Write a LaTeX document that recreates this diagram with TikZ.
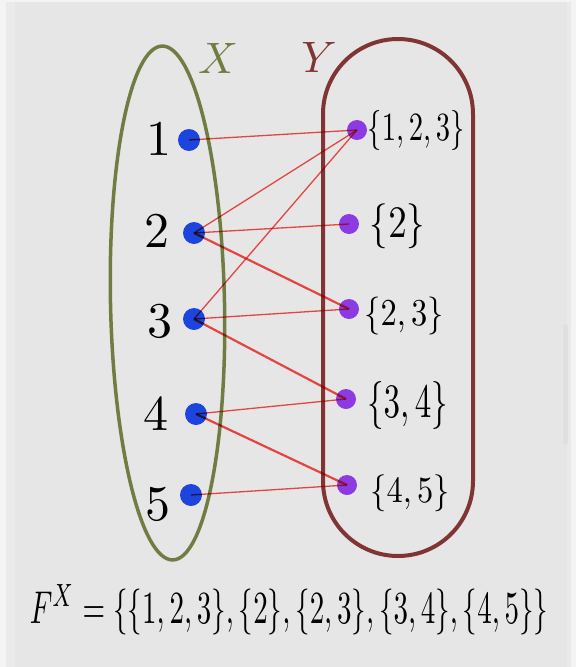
\documentclass[tikz,border=0pt]{standalone}
\usepackage{graphicx}
\definecolor{bgout}{HTML}{F4F4F4}
\definecolor{bgmid}{HTML}{EAEAEA}
\definecolor{bgin}{HTML}{E6E6E6}
\definecolor{scrollc}{HTML}{DFDFDF}
\definecolor{xgreen}{RGB}{112,125,66}
\definecolor{yred}{RGB}{128,52,52}
\definecolor{dotblue}{RGB}{30,68,222}
\definecolor{dotpurple}{RGB}{140,58,226}
\definecolor{edgered}{RGB}{252,78,74}
\begin{document}
\begin{tikzpicture}[x=1pt,y=-1pt,
  dotx/.style={circle,fill=dotblue,inner sep=0pt,minimum size=22pt},
  doty/.style={circle,fill=dotpurple,inner sep=0pt,minimum size=20pt},
  edgethin/.style={draw=edgered,line width=1.3pt},
  edgethick/.style={draw=edgered,line width=2.2pt},
  lab/.style={inner sep=0pt,outer sep=0pt,anchor=base},
]
\useasboundingbox (0,0) rectangle (576,667);
% background
\fill[bgout] (0,0) rectangle (576,667);
\fill[bgmid] (6,2) rectangle (571,667);
\fill[bgin] (15,2) rectangle (567,667);
\fill[scrollc, rounded corners=2.5pt] (563,324) rectangle (568,445);

% the two sets
\draw[xgreen,line width=3.5pt,rotate around={1.2:(167.5,303)}] (167.5,303) ellipse [x radius=57pt,y radius=257pt];
\draw[yred,line width=4pt,rounded corners=75pt] (323,39) rectangle (473,556);

\node[lab,text=xgreen] (xname) at (218,73) {\scalebox{4.4}{$X$}};
\node[lab,text=yred] (yname) at (319,72) {\scalebox{4.4}{$Y$}};

% points of X
\node[dotx] (a1) at (189,140) {};
\node[dotx] (a2) at (194,233) {};
\node[dotx] (a3) at (194,319) {};
\node[dotx] (a4) at (196,414) {};
\node[dotx] (a5) at (191,495) {};

% points of Y
\node[doty] (b1) at (357,130) {};
\node[doty] (b2) at (349,224) {};
\node[doty] (b3) at (349,309) {};
\node[doty] (b4) at (346,399) {};
\node[doty] (b5) at (347,485) {};

% labels of X
\node[lab] (l1) at (159,155) {\scalebox{5}{$1$}};
\node[lab] (l2) at (157,247) {\scalebox{5}{$2$}};
\node[lab] (l3) at (160,337) {\scalebox{5}{$3$}};
\node[lab] (l4) at (156,430) {\scalebox{5}{$4$}};
\node[lab] (l5) at (158,520) {\scalebox{5}{$5$}};

% labels of Y
\node[lab] (m1) at (416,140) {\scalebox{2.86}[4.0]{$\{1,2,3\}$}};
\node[lab] (m2) at (397.5,237) {\scalebox{3.7}[4.5]{$\{2\}$}};
\node[lab] (m3) at (404,325) {\scalebox{3.25}[3.8]{$\{2,3\}$}};
\node[lab] (m4) at (407.5,417) {\scalebox{3.3}[4.8]{$\{3,4\}$}};
\node[lab] (m5) at (410,502) {\scalebox{3.25}[3.7]{$\{4,5\}$}};

% edges
\begin{scope}[blend mode=multiply]
\draw[edgethin] (a1.center) -- (b1.center);
\draw[edgethin] (a2.center) -- (b1.center);
\draw[edgethin] (a3.center) -- (b1.center);
\draw[edgethin] (a2.center) -- (b2.center);
\draw[edgethick] (a2.center) -- (b3.center);
\draw[edgethin] (a3.center) -- (b3.center);
\draw[edgethick] (a3.center) -- (b4.center);
\draw[edgethin] (a4.center) -- (b4.center);
\draw[edgethick] (a4.center) -- (b5.center);
\draw[edgethin] (a5.center) -- (b5.center);
\end{scope}

% family
\node[lab] (fam) at (289,623) {\scalebox{2.9}[4.6]{$F^X = \{\{1,2,3\},\{2\},\{2,3\},\{3,4\},\{4,5\}\}$}};
\end{tikzpicture}
\end{document}
